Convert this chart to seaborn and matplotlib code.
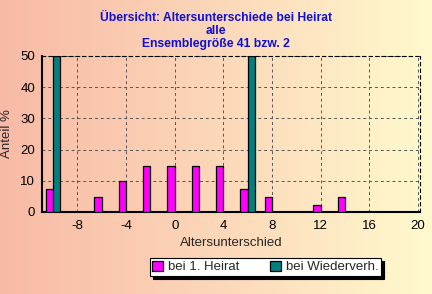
import numpy as np
import pandas as pd
import matplotlib
matplotlib.use("Agg")
import matplotlib.pyplot as plt
import seaborn as sns

# ---- data ----
alter = [-10, -8, -6, -4, -2, 0, 2, 4, 6, 8, 10, 12, 14, 16, 18, 20]
erst_heirat = [7.3, 0, 4.9, 9.8, 14.6, 14.6, 14.6, 14.6, 7.3, 4.9, 0, 2.4, 4.9, 0, 0, 0]
wiederverh = [50, 0, 0, 0, 0, 0, 0, 0, 50, 0, 0, 0, 0, 0, 0, 0]
series_names = ["bei 1. Heirat", "bei Wiederverh."]
x_ticks = [-8, -4, 0, 4, 8, 12, 16, 20]
y_ticks = [0, 10, 20, 30, 40, 50]
title_lines = ["Übersicht: Altersunterschiede bei Heirat", "alle", "Ensemblegröße 41 bzw. 2"]

df = pd.DataFrame({
    "Altersunterschied": alter * 2,
    "Anteil": erst_heirat + wiederverh,
    "Serie": [series_names[0]] * len(alter) + [series_names[1]] * len(alter),
})

sns.set_style("white")
plt.rcParams['font.family'] = ['Liberation Sans', 'DejaVu Sans']

fig = plt.figure(figsize=(4.32, 2.94), dpi=100)

# background gradient
bg = fig.add_axes([0, 0, 1, 1], zorder=-10)
left_c = np.array([248, 186, 166]) / 255
mid_c = np.array([252, 215, 185]) / 255
right_c = np.array([255, 250, 205]) / 255
t = np.linspace(0, 1, 256)
grad = np.zeros((2, 256, 3))
for i, tv in enumerate(t):
    if tv < 0.5:
        c = left_c + (mid_c - left_c) * (tv / 0.5)
    else:
        c = mid_c + (right_c - mid_c) * ((tv - 0.5) / 0.5)
    grad[:, i, :] = c
bg.imshow(grad, aspect='auto', extent=[0, 1, 0, 1])
bg.set_axis_off()

ax = fig.add_axes([42 / 432, 1 - 212 / 294, (420 - 42) / 432, (212 - 56) / 294])
ax.set_facecolor('none')

sns.barplot(data=df, x="Altersunterschied", y="Anteil", hue="Serie",
            hue_order=series_names, palette=["#FF00FF", "#008080"],
            native_scale=True, width=0.6, dodge=True, ax=ax,
            edgecolor="black", linewidth=0.9, saturation=1, errorbar=None, zorder=3)

handles, labels = ax.get_legend_handles_labels()
if ax.get_legend() is not None:
    ax.get_legend().remove()

ax.set_xlim(-10.9, 20.15)
ax.set_ylim(0, 50)
ax.set_xticks(x_ticks)
ax.set_xticklabels([str(v) for v in x_ticks])
ax.set_yticks(y_ticks)
ax.tick_params(axis='both', labelsize=9.5, length=3, width=0.8, colors='black', pad=2)
ax.tick_params(axis='x', direction='in', length=3, pad=6)
ax.set_xlabel("Altersunterschied", fontsize=9.5, labelpad=3)
ax.set_ylabel("Anteil %", fontsize=9.5, labelpad=5)

ax.grid(True, color='#555555', linestyle=(0, (3, 3)), linewidth=0.7, zorder=0)
ax.set_axisbelow(True)
for s in ['left', 'bottom']:
    ax.spines[s].set_color('black')
    ax.spines[s].set_linewidth(1.5)
for s in ['top', 'right']:
    ax.spines[s].set_color('black')
    ax.spines[s].set_linewidth(0.8)
    ax.spines[s].set_linestyle((0, (3, 3)))

for txt, yy in zip(title_lines, [18, 31, 43.5]):
    fig.text(0.5, 1 - yy / 294, txt, ha='center', va='center', fontsize=8.7,
             fontweight='bold', color='#1010D0')

leg = fig.legend(handles, labels, loc='center', bbox_to_anchor=(265.5 / 432, 1 - 267 / 294),
                 ncol=2, fontsize=9.5, frameon=True, fancybox=False,
                 shadow={'color': 'black', 'alpha': 1}, handlelength=0.8, handleheight=0.8,
                 columnspacing=2.3, handletextpad=0.4, borderpad=0.2, borderaxespad=0)
leg.get_frame().set_edgecolor('black')
leg.get_frame().set_linewidth(0.8)
leg.get_frame().set_facecolor('white')
leg.get_frame().set_alpha(1)

fig.savefig("out.png", dpi=100)
